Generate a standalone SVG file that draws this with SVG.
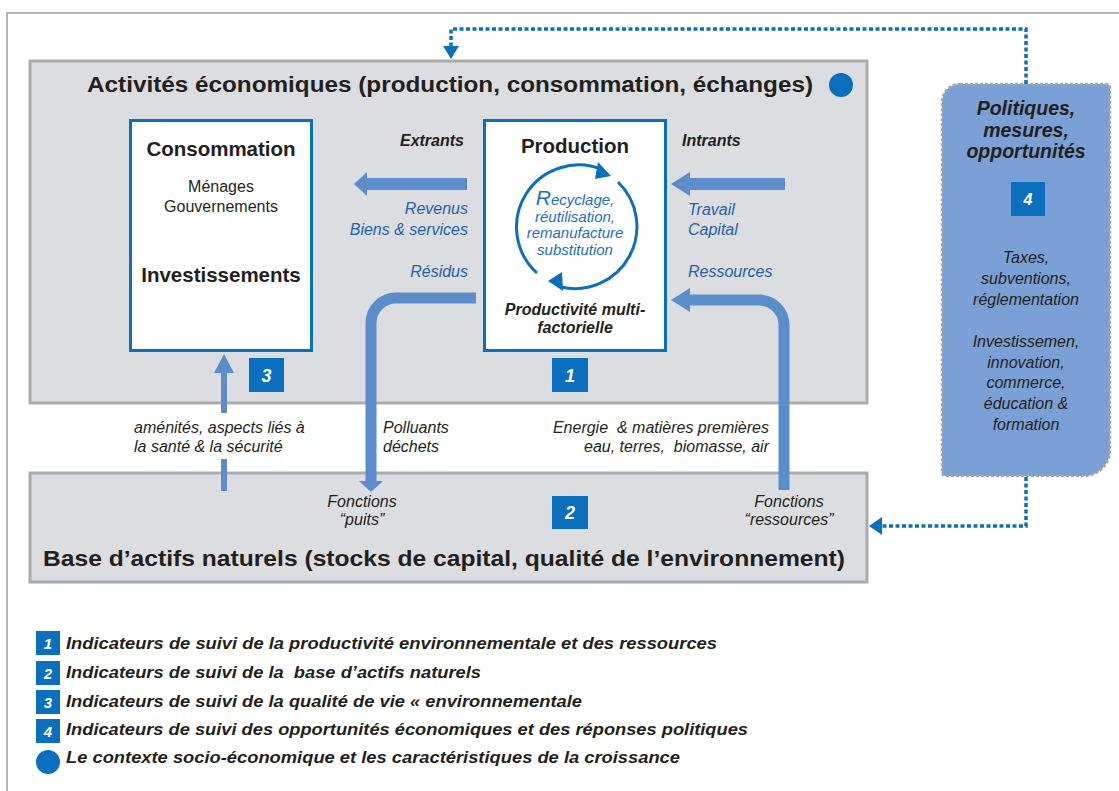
<svg xmlns="http://www.w3.org/2000/svg" width="1119" height="791" viewBox="0 0 1119 791">
<defs>
<style>
text{font-family:"Liberation Sans",Arial,Helvetica,sans-serif;fill:#231f20}
.big{font-size:22px;font-weight:bold}
.hd{font-size:20.5px;font-weight:bold}
.reg{font-size:16px}
.it{font-size:16px;font-style:italic}
.bi{font-size:16px;font-style:italic;font-weight:bold}
.blue{fill:#2362a8}
.cir{font-size:15px;font-style:italic;fill:#1a6fc0}
.num{font-size:18px;font-style:italic;font-weight:bold;fill:#fff}
.lnum{font-size:15px;font-style:italic;font-weight:bold;fill:#fff}
.leg{font-size:17px;font-style:italic;font-weight:bold}
.gbox{fill:#dcdde0;stroke:#a9abae;stroke-width:3}
.wbox{fill:#fff;stroke:#0a6fbd;stroke-width:3}
.sq{fill:#0a6fbd}
.arr{fill:#5b8dcb}
.arrs{fill:none;stroke:#5b8dcb}
.ring{fill:none;stroke:#0a6fbd;stroke-width:3}
.dot{fill:none;stroke:#0a6fbd;stroke-width:3.5;stroke-dasharray:4 2.5}
.dhead{fill:#0a6fbd}
</style>
</defs>
<path d="M7,791 V13 H1119" fill="none" stroke="#a0a0a0" stroke-width="1.5"/>

<g id="economic-activities">
<rect class="gbox" x="30" y="61" width="837" height="342"/>
<text class="big" x="87" y="92" textLength="726" lengthAdjust="spacingAndGlyphs">Activités économiques (production, consommation, échanges)</text>
<circle cx="841" cy="85" r="12" fill="#0a6fbd"/>
</g>

<g id="natural-assets">
<rect class="gbox" x="30" y="473" width="837" height="109"/>
<text class="big" x="43" y="566" textLength="802" lengthAdjust="spacingAndGlyphs">Base d’actifs naturels (stocks de capital, qualité de l’environnement)</text>
<rect class="sq" x="552" y="496" width="36" height="33"/>
<text class="num" x="570" y="519" text-anchor="middle">2</text>
<text class="it" x="362" y="507" text-anchor="middle">Fonctions</text>
<text class="it" x="362" y="525" text-anchor="middle">“puits”</text>
<text class="it" x="789" y="507" text-anchor="middle">Fonctions</text>
<text class="it" x="789" y="525" text-anchor="middle">“ressources”</text>
</g>

<g id="consommation">
<rect class="wbox" x="130.5" y="120.5" width="181" height="230"/>
<text class="hd" x="221" y="156" text-anchor="middle">Consommation</text>
<text class="reg" x="221" y="192" text-anchor="middle">Ménages</text>
<text class="reg" x="221" y="212" text-anchor="middle">Gouvernements</text>
<text class="hd" x="221" y="282" text-anchor="middle">Investissements</text>
<rect class="sq" x="249" y="358" width="35" height="34"/>
<text class="num" x="266.5" y="382" text-anchor="middle">3</text>
</g>

<g id="production">
<rect class="wbox" x="484.5" y="120.5" width="181" height="230"/>
<text class="hd" x="575" y="153" text-anchor="middle">Production</text>
<path class="ring" d="M537,273 A62,62 0 0 1 603,170"/>
<polygon class="dhead" points="611,176 598,162 595,179"/>
<path class="ring" d="M618,182 A62,62 0 0 1 561,287"/>
<polygon class="dhead" points="548,281 562,272 563,291"/>
<text class="cir" x="575" y="205" text-anchor="middle"><tspan font-size="21">R</tspan>ecyclage,</text>
<text class="cir" x="575" y="222" text-anchor="middle">réutilisation,</text>
<text class="cir" x="575" y="238" text-anchor="middle">remanufacture</text>
<text class="cir" x="575" y="255" text-anchor="middle">substitution</text>
<text class="bi" x="575" y="315" text-anchor="middle">Productivité multi-</text>
<text class="bi" x="575" y="333" text-anchor="middle">factorielle</text>
<rect class="sq" x="552" y="358" width="36" height="34"/>
<text class="num" x="570" y="382" text-anchor="middle">1</text>
</g>

<g id="politiques">
<path d="M960,84 H1106 Q1110,84 1110,88 V450 A26,26 0 0 1 1084,476 H946 Q942,476 942,472 V102 A18,18 0 0 1 960,84 Z" fill="#7aa0d5" stroke="#a6a6a6" stroke-width="2.5" stroke-dasharray="3 2"/>
<text class="bi" x="1026" y="115" text-anchor="middle" style="font-size:19.5px">Politiques,</text>
<text class="bi" x="1026" y="137" text-anchor="middle" style="font-size:19.5px">mesures,</text>
<text class="bi" x="1026" y="158" text-anchor="middle" style="font-size:19.5px">opportunités</text>
<rect class="sq" x="1011" y="182" width="34" height="34"/>
<text class="num" x="1028" y="205" text-anchor="middle" style="font-size:16px">4</text>
<text class="it" x="1026" y="263" text-anchor="middle">Taxes,</text>
<text class="it" x="1026" y="284" text-anchor="middle">subventions,</text>
<text class="it" x="1026" y="305" text-anchor="middle">réglementation</text>
<text class="it" x="1026" y="347" text-anchor="middle">Investissemen,</text>
<text class="it" x="1026" y="368" text-anchor="middle">innovation,</text>
<text class="it" x="1026" y="388" text-anchor="middle">commerce,</text>
<text class="it" x="1026" y="409" text-anchor="middle">éducation &amp;</text>
<text class="it" x="1026" y="430" text-anchor="middle">formation</text>
</g>

<g id="connectors">
<rect class="arr" x="366" y="178" width="101" height="12"/>
<polygon class="arr" points="354,184 367,172 367,196"/>
<rect class="arr" x="689" y="178" width="96" height="12"/>
<polygon class="arr" points="671,184 690,172 690,196"/>
<path class="arrs" d="M476,298 H396 A25,25 0 0 0 371,323 V482" stroke-width="11"/>
<polygon class="arr" points="359,481 383,481 371,492"/>
<path class="arrs" d="M784,490 V325 A25,25 0 0 0 759,300 H689" stroke-width="11"/>
<polygon class="arr" points="671,300 690,288 690,312"/>
<rect class="arr" x="221" y="372" width="6" height="41"/>
<rect class="arr" x="221" y="459" width="6" height="32"/>
<polygon class="arr" points="224,354 214,373 234,373"/>
<path class="dot" d="M1026,84 V29 H451 V47"/>
<polygon class="dhead" points="443,46 459,46 451,59"/>
<path class="dot" d="M1026,477 V526 H881"/>
<polygon class="dhead" points="882,517 882,535 869,526"/>
</g>

<g id="flow-labels">
<text class="bi" x="464" y="146" text-anchor="end">Extrants</text>
<text class="it blue" x="468" y="214" text-anchor="end">Revenus</text>
<text class="it blue" x="468" y="235" text-anchor="end">Biens &amp; services</text>
<text class="it blue" x="468" y="277" text-anchor="end">Résidus</text>
<text class="bi" x="682" y="146">Intrants</text>
<text class="it blue" x="688" y="215">Travail</text>
<text class="it blue" x="688" y="235">Capital</text>
<text class="it blue" x="688" y="277">Ressources</text>
<text class="it" x="134" y="433">aménités, aspects liés à</text>
<text class="it" x="134" y="452">la santé &amp; la sécurité</text>
<text class="it" x="383" y="433">Polluants</text>
<text class="it" x="383" y="452">déchets</text>
<text class="it" x="769" y="433" text-anchor="end" xml:space="preserve">Energie  &amp; matières premières</text>
<text class="it" x="769" y="452" text-anchor="end" xml:space="preserve">eau, terres,  biomasse, air</text>
</g>

<g id="legend">
<rect class="sq" x="36" y="631" width="24" height="24"/>
<text class="lnum" x="48" y="649" text-anchor="middle">1</text>
<text class="leg" x="66" y="649" textLength="651" lengthAdjust="spacingAndGlyphs">Indicateurs de suivi de la productivité environnementale et des ressources</text>
<rect class="sq" x="36" y="661" width="24" height="24"/>
<text class="lnum" x="48" y="679" text-anchor="middle">2</text>
<text class="leg" x="66" y="678" textLength="415" lengthAdjust="spacingAndGlyphs" xml:space="preserve">Indicateurs de suivi de la  base d’actifs naturels</text>
<rect class="sq" x="36" y="690" width="24" height="24"/>
<text class="lnum" x="48" y="708" text-anchor="middle">3</text>
<text class="leg" x="66" y="707" textLength="516" lengthAdjust="spacingAndGlyphs">Indicateurs de suivi de la qualité de vie « environnementale</text>
<rect class="sq" x="36" y="719" width="24" height="24"/>
<text class="lnum" x="48" y="737" text-anchor="middle">4</text>
<text class="leg" x="66" y="735" textLength="682" lengthAdjust="spacingAndGlyphs">Indicateurs de suivi des opportunités économiques et des réponses politiques</text>
<ellipse cx="48" cy="762" rx="12" ry="12" fill="#0a6fbd"/>
<text class="leg" x="66" y="763" textLength="614" lengthAdjust="spacingAndGlyphs">Le contexte socio-économique et les caractéristiques de la croissance</text>
</g>
</svg>
